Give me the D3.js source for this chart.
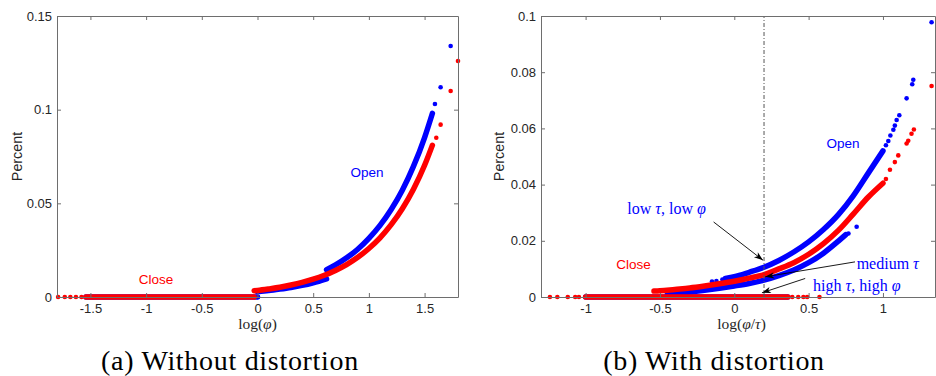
<!DOCTYPE html>
<html>
<head>
<meta charset="utf-8">
<script src="https://cdn.jsdelivr.net/npm/d3@7"></script>
<style>
  body { margin: 0; background: #fff; }
  svg { display: block; }
</style>
</head>
<body>
<svg id="chart" width="936" height="376"></svg>
<script>
// ════════════════════════════════════════════
// Data
// ════════════════════════════════════════════

// ── (a) Without distortion ──
const aXTicks = [-1.5, -1, -0.5, 0, 0.5, 1, 1.5];
const aYTicks = [0, 0.05, 0.1, 0.15];

const aOpenBaseRun = [[-1.54, 0], [0, 0]];
const aOpenBaseDots = [[0, 0]];
const aOpenLow = [[0, 0.0028], [0.1, 0.0034], [0.2, 0.0042], [0.3, 0.0051], [0.4, 0.0062], [0.5, 0.0076], [0.62, 0.0097]];
const aOpenHigh = [[0.62, 0.0146], [0.7, 0.0171], [0.8, 0.0209], [0.9, 0.0255], [1.0, 0.0313], [1.1, 0.0382],
  [1.2, 0.0467], [1.3, 0.057], [1.4, 0.0697], [1.5, 0.0851], [1.57, 0.098]];
const aOpenTail = [[1.593, 0.103], [1.644, 0.112], [1.734, 0.134]];

const aCloseBaseRun = [[-1.54, 0], [-0.03, 0]];
const aCloseBaseDots = [[-1.79, 0], [-1.73, 0], [-1.68, 0], [-1.63, 0], [-1.58, 0]];
const aCloseCurve = [[-0.03, 0.0033], [0, 0.0035], [0.1, 0.0043], [0.2, 0.0052], [0.3, 0.0064], [0.4, 0.0078],
  [0.5, 0.0095], [0.6, 0.0116], [0.7, 0.0142], [0.8, 0.0173], [0.9, 0.0212], [1.0, 0.0259], [1.1, 0.0316],
  [1.2, 0.0386], [1.3, 0.0471], [1.4, 0.0575], [1.5, 0.0703], [1.57, 0.081]];
const aCloseTail = [[1.605, 0.085], [1.644, 0.092], [1.734, 0.11], [1.8, 0.126]];

// ── (b) With distortion ──
const bXTicks = [-1, -0.5, 0, 0.5, 1];
const bYTicks = [0, 0.02, 0.04, 0.06, 0.08, 0.1];
const bRefLine = 0.2;

const bOpenBaseRun = [[-1.0, 0], [0.36, 0]];
const bOpenLow = [[-0.45, 0.0012], [-0.3, 0.0018], [-0.2, 0.0024], [-0.1, 0.0031], [0, 0.0039], [0.1, 0.0048],
  [0.2, 0.006], [0.3, 0.0076], [0.4, 0.0096], [0.5, 0.0122], [0.6, 0.0156], [0.7, 0.0199], [0.75, 0.0222]];
const bOpenLowTail = [[0.768, 0.0226], [0.823, 0.025]];
const bOpenHead = [[-0.15, 0.0055], [-0.12, 0.0057], [-0.08, 0.0062]];
const bOpenHigh = [[-0.06, 0.0066], [0, 0.0072], [0.1, 0.0088], [0.2, 0.0106], [0.3, 0.013], [0.4, 0.016],
  [0.5, 0.0196], [0.6, 0.024], [0.7, 0.0293], [0.8, 0.036], [0.9, 0.044], [1.0, 0.052]];
const bOpenTail = [[1.02, 0.054], [1.036, 0.0555], [1.05, 0.0575], [1.07, 0.0595], [1.08, 0.061], [1.092, 0.063],
  [1.11, 0.0647], [1.159, 0.0707], [1.197, 0.0757], [1.204, 0.0773], [1.327, 0.0978]];

const bCloseBaseRun = [[-1.0, 0], [0.36, 0]];
const bCloseBaseDots = [[-1.24, 0], [-1.19, 0], [-1.12, 0], [-1.07, 0], [-1.045, 0],
  [0.39, 0], [0.43, 0], [0.465, 0], [0.49, 0], [0.573, 0]];
const bCloseCurve = [[-0.54, 0.0021], [-0.5, 0.0022], [-0.4, 0.0027], [-0.3, 0.0032], [-0.2, 0.0039],
  [-0.1, 0.0047], [0, 0.0056], [0.1, 0.0067], [0.2, 0.008], [0.3, 0.01], [0.4, 0.0122], [0.5, 0.0152],
  [0.6, 0.019], [0.7, 0.0237], [0.8, 0.0295], [0.9, 0.0355], [1.0, 0.0405]];
const bCloseTail = [[1.02, 0.042], [1.047, 0.0453], [1.08, 0.048], [1.103, 0.0504], [1.159, 0.0546],
  [1.17, 0.0556], [1.192, 0.0581], [1.208, 0.0596], [1.327, 0.0751]];

// annotations in panel (b): text + arrow (data units)
const bNotes = [
  { parts: [["low ", 0], ["τ", 1], [", low ", 0], ["φ", 1]], at: [-0.72, 0.0316], from: [-0.139, 0.0267], to: [0.193, 0.0131] },
  { parts: [["medium ", 0], ["τ", 1]], at: [0.823, 0.0122], from: [0.812, 0.0125], to: [0.208, 0.0072] },
  { parts: [["high ", 0], ["τ", 1], [", high ", 0], ["φ", 1]], at: [0.53, 0.0043], from: [0.477, 0.0066], to: [0.186, 0.0015] },
];

// ════════════════════════════════════════════
// Drawing
// ════════════════════════════════════════════

const BLUE = "#0000ff", RED = "#ff0000";
const SANS = "'Liberation Sans', Arial, Helvetica, sans-serif";
const SERIF = "'Liberation Serif', 'Times New Roman', serif";
const TOP = 16, BOTTOM = 297;
const fmt = (d) => String(d);

const svg = d3.select("#chart");

svg.append("defs").append("marker")
  .attr("id", "arrowhead")
  .attr("viewBox", "-10 -5 12 10")
  .attr("refX", 0).attr("refY", 0)
  .attr("markerWidth", 12).attr("markerHeight", 10)
  .attr("markerUnits", "userSpaceOnUse")
  .attr("orient", "auto")
  .append("path")
  .attr("d", "M0,0 L-9,-3.2 L-6.5,0 L-9,3.2 Z")
  .attr("fill", "#000");

function mathText(sel, parts) {
  parts.forEach(([t, it]) => {
    sel.append("tspan").text(t).attr("font-style", it ? "italic" : "normal");
  });
}

function drawPanel(cfg) {
  const x = d3.scaleLinear().domain(cfg.xDomain).range([cfg.left, cfg.right]);
  const y = d3.scaleLinear().domain(cfg.yDomain).range([BOTTOM, TOP]);
  const g = svg.append("g");

  const line = d3.line().x((d) => x(d[0])).y((d) => y(d[1])).curve(d3.curveMonotoneX);

  function run(data, color, w) {
    g.append("path")
      .datum(data)
      .attr("d", line)
      .attr("fill", "none")
      .attr("stroke", color)
      .attr("stroke-width", w)
      .attr("stroke-linecap", "round");
  }
  function dots(data, color, r) {
    g.append("g")
      .selectAll("circle")
      .data(data)
      .join("circle")
      .attr("cx", (d) => x(d[0]))
      .attr("cy", (d) => y(d[1]))
      .attr("r", r)
      .attr("fill", color);
  }

  // blue series first, red on top
  cfg.open.runs.forEach((d) => run(d, BLUE, 5.5));
  cfg.open.dots.forEach((d) => dots(d, BLUE, 2.3));
  cfg.close.runs.forEach((d) => run(d, RED, 5.5));
  cfg.close.dots.forEach((d) => dots(d, RED, 2.3));

  if (cfg.refLine != null) {
    g.append("line")
      .attr("x1", x(cfg.refLine)).attr("x2", x(cfg.refLine))
      .attr("y1", y(cfg.yDomain[0])).attr("y2", y(cfg.yDomain[1]))
      .attr("stroke", "#555")
      .attr("stroke-width", 1)
      .attr("stroke-dasharray", "4,2,1,2");
  }

  // ── axes (box with inward ticks) ──
  const styleAxis = (a) => {
    a.selectAll(".domain").attr("stroke", "#6e6e6e");
    a.selectAll(".tick line").attr("stroke", "#6e6e6e");
    a.selectAll("text").attr("fill", "#262626").style("font-family", SANS).style("font-size", "13px");
  };
  g.append("g").attr("transform", `translate(0,${BOTTOM})`)
    .call(d3.axisBottom(x).tickValues(cfg.xTicks).tickSizeInner(-4).tickSizeOuter(0).tickPadding(7).tickFormat(fmt))
    .call(styleAxis);
  g.append("g").attr("transform", `translate(0,${TOP})`)
    .call(d3.axisTop(x).tickValues(cfg.xTicks).tickSizeInner(-4).tickSizeOuter(0).tickFormat(""))
    .call(styleAxis);
  g.append("g").attr("transform", `translate(${cfg.left},0)`)
    .call(d3.axisLeft(y).tickValues(cfg.yTicks).tickSizeInner(-4).tickSizeOuter(0).tickPadding(5).tickFormat(fmt))
    .call(styleAxis);
  g.append("g").attr("transform", `translate(${cfg.right},0)`)
    .call(d3.axisRight(y).tickValues(cfg.yTicks).tickSizeInner(-4).tickSizeOuter(0).tickFormat(""))
    .call(styleAxis);

  // ── series labels ──
  cfg.labels.forEach((l) => {
    g.append("text")
      .attr("x", x(l.at[0])).attr("y", y(l.at[1]))
      .attr("text-anchor", "middle").attr("dominant-baseline", "central")
      .attr("fill", l.color)
      .style("font-family", SANS).style("font-size", "13.5px")
      .text(l.text);
  });

  // ── annotations ──
  (cfg.notes || []).forEach((n) => {
    g.append("line")
      .attr("x1", x(n.from[0])).attr("y1", y(n.from[1]))
      .attr("x2", x(n.to[0])).attr("y2", y(n.to[1]))
      .attr("stroke", "#000").attr("stroke-width", 0.9)
      .attr("marker-end", "url(#arrowhead)");
    const t = g.append("text")
      .attr("x", x(n.at[0])).attr("y", y(n.at[1]))
      .attr("dominant-baseline", "central")
      .attr("fill", BLUE)
      .style("font-family", SERIF).style("font-size", "16px");
    mathText(t, n.parts);
  });

  // ── axis titles ──
  g.append("text")
    .attr("transform", `translate(${cfg.yLabelX},${(TOP + BOTTOM) / 2}) rotate(-90)`)
    .attr("text-anchor", "middle").attr("dominant-baseline", "central")
    .attr("fill", "#262626")
    .style("font-family", SANS).style("font-size", "14.3px")
    .text("Percent");
  const xl = g.append("text")
    .attr("x", (cfg.left + cfg.right) / 2 - cfg.xLabelShift).attr("y", 329)
    .attr("text-anchor", "middle")
    .attr("fill", "#262626")
    .style("font-family", SERIF).style("font-size", "15.5px");
  mathText(xl, cfg.xLabel);

  // ── caption ──
  svg.append("text")
    .attr("x", cfg.captionX).attr("y", 370)
    .attr("text-anchor", "middle")
    .attr("fill", "#000")
    .style("font-family", SERIF).style("font-size", "28px").style("letter-spacing", "0.7px")
    .text(cfg.caption);
}

drawPanel({
  left: 57, right: 458,
  xDomain: [-1.8, 1.8], yDomain: [0, 0.15],
  xTicks: aXTicks, yTicks: aYTicks,
  open: { runs: [aOpenBaseRun, aOpenLow, aOpenHigh], dots: [aOpenBaseDots, aOpenTail] },
  close: { runs: [aCloseBaseRun, aCloseCurve], dots: [aCloseBaseDots, aCloseTail] },
  labels: [
    { text: "Open", at: [0.984, 0.0662], color: BLUE },
    { text: "Close", at: [-0.912, 0.0096], color: RED },
  ],
  yLabelX: 17,
  xLabel: [["log(", 0], ["φ", 1], [")", 0]],
  xLabelShift: 0,
  caption: "(a) Without distortion", captionX: 230,
});

drawPanel({
  left: 541, right: 935,
  xDomain: [-1.3, 1.35], yDomain: [0, 0.1],
  xTicks: bXTicks, yTicks: bYTicks,
  refLine: bRefLine,
  open: { runs: [bOpenBaseRun, bOpenLow, bOpenHigh], dots: [bOpenLowTail, bOpenHead, bOpenTail] },
  close: { runs: [bCloseBaseRun, bCloseCurve], dots: [bCloseBaseDots, bCloseTail] },
  labels: [
    { text: "Open", at: [0.732, 0.0546], color: BLUE },
    { text: "Close", at: [-0.678, 0.0114], color: RED },
  ],
  notes: bNotes,
  yLabelX: 499,
  xLabel: [["log(", 0], ["φ", 1], ["/", 0], ["τ", 1], [")", 0]],
  xLabelShift: -3.5,
  caption: "(b) With distortion", captionX: 714,
});
</script>
</body>
</html>
